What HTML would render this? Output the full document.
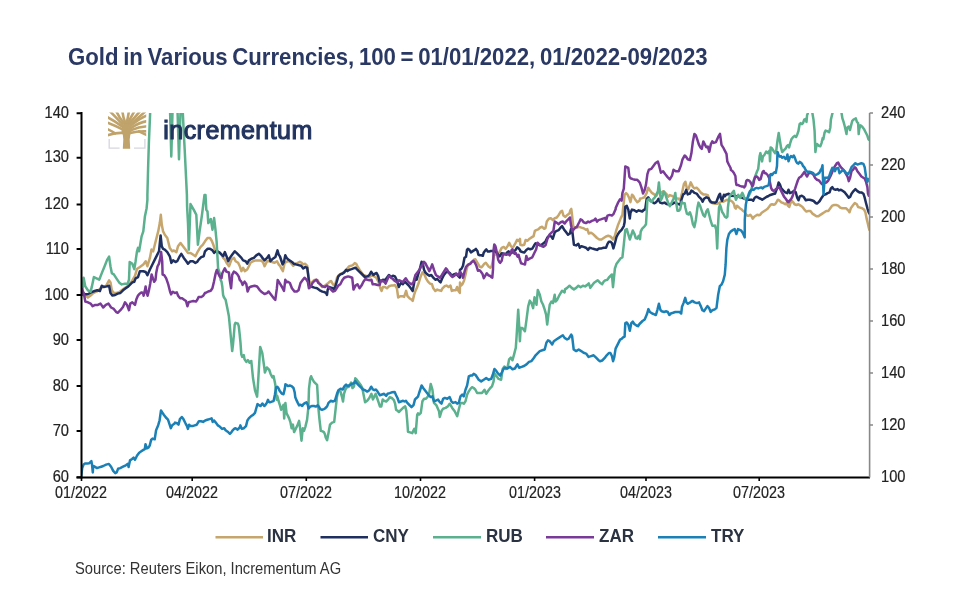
<!DOCTYPE html>
<html><head><meta charset="utf-8">
<style>
html,body{margin:0;padding:0;background:#fff;}
body{width:975px;height:604px;position:relative;overflow:hidden;font-family:"Liberation Sans",Arial,sans-serif;}
#wrap{position:absolute;left:0;top:0;width:975px;height:604px;filter:blur(0.35px);}
.t{position:absolute;white-space:nowrap;line-height:1;}
#title{left:67.9px;top:46.1px;font-weight:bold;font-size:23.4px;color:#2a3864;word-spacing:-1.6px;transform:scaleX(0.948);transform-origin:0 50%;}
.yl{position:absolute;width:40px;text-align:right;font-size:16.3px;color:#222;line-height:1;transform:scaleX(0.9);-webkit-text-stroke:0.2px #222;transform-origin:100% 50%;}
.yr{position:absolute;font-size:16.3px;color:#222;line-height:1;transform:scaleX(0.9);-webkit-text-stroke:0.2px #222;transform-origin:0 50%;}
.xl{position:absolute;width:80px;text-align:center;font-size:16.3px;color:#222;line-height:1;transform:scaleX(0.88);-webkit-text-stroke:0.2px #222;transform-origin:50% 50%;}
.lg{position:absolute;font-weight:bold;font-size:18.7px;color:#2b3342;line-height:1;transform:scaleX(0.91);transform-origin:0 50%;}
#src{left:75.3px;top:560.4px;font-size:16.2px;color:#333;transform:scaleX(0.91);transform-origin:0 50%;}
#logo{left:163.3px;top:117.7px;font-size:25px;font-weight:normal;color:#22345f;-webkit-text-stroke:1.1px #22345f;letter-spacing:0.45px;}
svg{position:absolute;left:0;top:0;}
</style></head><body>
<div id="wrap">
<div class="t" id="title">Gold in Various Currencies, 100 = 01/01/2022, 01/2022-09/2023</div>
<svg width="975" height="604" viewBox="0 0 975 604">
<defs><clipPath id="pc"><rect x="81" y="113" width="789" height="365.5"/></clipPath>
<clipPath id="lc"><rect x="0" y="0" width="38.2" height="37"/></clipPath></defs>
<g transform="translate(108,112.4)">
<g clip-path="url(#lc)" fill="none" stroke="#bfa36b" stroke-width="2.6" stroke-linecap="round">
<path d="M15 20.5 Q 8 20 -1 23"/>
<path d="M7 21 Q 3 18 -1 16.5"/>
<path d="M14.5 17 Q 7 13 -1 10"/>
<path d="M14 14 Q 6 8 -1 4.5"/>
<path d="M14.5 12 Q 8 5 2 -1"/>
<path d="M16 11 Q 11 5 8.4 -1"/>
<path d="M17.5 11 Q 15 5 14.4 -1"/>
<path d="M18.5 11 Q 20 5 20.9 -1"/>
<path d="M19.5 11 Q 23 5 26.3 -1"/>
<path d="M20.5 11.5 Q 27 5 31.8 -1"/>
<path d="M21.5 12.5 Q 31 5 37.4 -1"/>
<path d="M22 14 Q 31 6 39.5 2.7"/>
<path d="M22.5 16 Q 31 10 39.5 8.7"/>
<path d="M22.5 18 Q 31 14 39.5 13.8"/>
<path d="M22 20.5 Q 30 18.5 39.5 19"/>
<path d="M31 19 Q 35 21 39.5 23"/>
</g>
<path d="M14.8 36.4 L22.2 36.4 L21.7 27 Q22 22 23.5 19 L22.6 13 L20 10.8 L17 10.8 L14.3 13 L13.5 19 Q15.3 22 15.3 27 Z" fill="#bfa36b"/>
<path d="M1.2 26.5 V35.8 H11.6 M36.9 26.5 V35.8 H26" fill="none" stroke="#d6d6de" stroke-width="1.3"/>
</g>
<g fill="none" stroke-width="2.5" stroke-linejoin="round" stroke-linecap="round" clip-path="url(#pc)">
<polyline points="81.5,294.9 83.0,293.0 85.3,295.6 87.9,297.6 90.6,295.6 93.2,293.0 96.5,291.7 99.9,289.0 103.2,286.4 105.8,286.4 109.1,280.4 110.5,282.4 111.8,290.3 113.8,293.0 116.4,293.0 119.1,292.3 121.7,290.3 124.4,288.3 127.0,286.4 129.7,283.7 132.3,280.4 135.0,275.8 136.9,269.1 139.9,267.0 143.3,264.5 145.7,261.2 147.4,266.2 149.9,257.9 151.5,249.6 153.2,251.3 154.8,244.7 156.5,238.0 158.2,231.4 159.8,223.1 160.8,214.8 161.8,224.8 163.1,231.4 164.8,234.7 167.3,238.0 169.8,248.0 172.2,251.3 173.9,250.5 176.4,252.1 178.0,246.3 180.5,243.0 183.0,246.3 185.5,249.6 188.0,252.9 190.5,252.9 192.9,254.6 195.4,256.3 197.9,251.3 200.4,247.1 202.9,244.7 205.0,241.3 207.5,238.0 210.0,238.0 211.6,240.5 213.3,244.6 214.9,249.6 217.4,251.3 219.9,252.9 221.6,254.6 223.2,257.9 224.9,259.5 226.5,262.8 229.0,266.2 231.5,259.5 234.0,257.9 235.6,261.2 238.1,262.8 239.8,266.2 241.4,271.1 243.1,267.8 244.8,271.1 247.2,269.5 248.9,266.2 250.5,262.8 253.0,261.2 255.5,260.4 258.0,260.4 260.5,260.4 263.0,262.0 264.6,266.2 267.1,261.2 269.6,261.2 272.1,262.0 274.6,262.8 277.0,261.2 278.7,264.5 280.0,265.8 281.3,268.4 282.9,271.1 284.6,263.1 286.6,261.8 288.6,261.1 290.6,262.5 293.2,265.8 295.2,263.8 297.2,263.1 299.9,261.8 301.2,262.5 303.2,264.4 305.2,263.8 307.2,265.8 308.5,276.4 309.8,283.6 311.8,282.3 313.8,280.3 315.8,279.7 317.7,280.3 319.7,284.3 322.4,287.0 325.0,285.6 327.7,283.6 329.7,281.7 331.0,281.0 333.0,284.3 334.3,285.6 335.6,283.0 337.0,277.7 338.9,275.0 340.9,273.7 342.9,273.0 344.9,271.1 346.9,269.1 348.9,266.4 350.9,265.8 352.8,265.1 354.8,263.1 356.2,263.8 357.5,266.4 359.5,269.7 361.5,272.4 363.4,275.0 365.4,275.7 367.4,276.4 369.4,277.0 371.4,275.7 373.4,275.7 375.0,277.0 376.3,277.7 377.6,280.3 379.0,283.0 380.3,288.3 381.6,290.9 382.9,287.0 384.9,287.0 386.9,288.3 388.9,286.3 390.9,285.6 392.9,285.6 394.9,285.0 396.9,288.3 398.2,297.5 400.2,296.2 402.2,296.2 404.1,296.9 406.1,290.9 407.5,296.2 409.4,298.2 411.4,299.5 412.7,300.9 414.1,294.9 415.4,290.9 416.7,288.3 418.7,283.0 420.7,276.4 422.4,272.4 424.0,273.7 426.0,278.3 428.0,281.7 430.0,283.6 432.0,284.3 433.3,288.3 435.3,290.9 437.3,289.6 439.2,290.3 441.2,290.9 442.5,288.3 444.5,286.3 446.5,285.6 448.5,287.0 450.5,285.6 451.8,290.9 453.8,290.3 455.8,290.3 457.1,287.0 458.4,290.9 459.8,292.9 460.0,282.6 461.0,285.6 462.5,284.1 464.0,280.7 465.5,274.7 466.5,269.7 467.9,264.8 469.4,264.3 470.9,262.8 472.4,261.8 473.9,259.8 475.4,259.3 476.9,261.8 478.4,264.3 479.9,266.8 481.4,267.3 482.8,265.8 484.3,263.8 485.8,262.8 487.3,264.8 488.8,266.8 490.3,267.7 491.8,265.8 493.8,255.8 495.8,253.8 497.7,253.3 499.7,251.9 501.7,247.9 503.7,246.9 505.7,248.9 507.7,245.9 509.2,242.9 510.7,245.9 512.2,247.4 513.6,246.4 515.6,242.9 517.1,239.9 518.6,240.9 520.0,238.9 520.3,244.7 522.3,245.3 524.3,244.7 525.6,240.0 527.6,240.7 529.6,238.7 531.6,237.4 533.6,236.1 534.9,230.8 536.2,230.1 538.2,229.4 540.2,227.5 542.2,226.8 544.2,228.8 545.5,228.1 546.8,221.5 548.8,218.8 550.8,218.2 552.8,220.2 554.8,218.2 556.8,217.5 558.7,214.9 560.7,211.6 562.1,210.9 563.4,215.5 565.4,216.9 567.4,214.9 569.3,213.5 570.0,211.6 570.2,210.4 571.3,208.9 572.2,216.4 573.2,226.1 574.7,227.6 576.9,227.6 579.2,226.8 581.4,227.6 583.6,228.3 585.9,229.8 587.3,229.1 588.8,233.5 591.1,232.8 593.3,234.3 595.5,236.5 597.0,238.0 599.3,239.5 601.5,239.5 603.7,238.0 606.0,236.5 608.2,235.8 610.4,236.5 611.9,238.0 613.0,239.5 614.9,235.8 616.4,229.8 617.9,225.3 619.4,221.6 620.9,217.9 622.4,214.9 623.8,202.1 624.6,194.7 626.1,193.2 627.6,194.7 629.1,197.7 630.5,202.1 632.0,194.7 633.5,196.2 635.0,199.2 637.3,202.1 639.5,200.7 640.0,198.8 642.2,198.1 644.5,197.3 646.7,192.9 648.2,187.7 649.7,189.9 651.9,192.9 654.2,194.4 656.4,195.9 658.6,191.4 660.9,192.9 663.1,191.4 665.3,192.9 666.8,194.4 668.3,196.6 669.8,195.1 672.0,195.9 674.3,197.3 676.5,198.1 678.7,198.8 680.2,200.3 681.7,194.4 683.9,183.9 685.4,181.7 686.9,188.4 688.4,189.2 690.7,182.4 692.9,186.9 694.4,188.4 696.6,187.7 698.8,189.9 701.1,192.9 703.3,194.4 705.5,194.4 707.8,195.1 709.3,199.6 710.8,202.6 713.0,203.3 715.0,203.8 717.0,203.8 719.0,202.8 721.0,201.8 722.9,201.8 724.9,200.8 726.9,199.8 728.9,200.3 730.9,200.8 732.4,201.8 733.9,203.8 734.9,207.7 735.9,208.7 736.9,205.8 738.3,206.8 739.8,208.2 741.3,209.2 742.8,210.7 744.3,211.7 745.8,214.2 747.3,215.7 748.8,215.7 750.3,214.7 751.8,216.7 752.7,218.7 754.2,216.7 755.7,215.7 757.2,214.7 758.7,215.2 760.2,214.7 761.7,212.7 763.2,211.7 764.7,210.7 766.2,209.7 767.6,208.7 769.1,206.8 770.6,204.8 772.1,204.3 773.6,204.8 775.0,204.3 776.0,203.0 777.9,199.7 779.3,200.3 781.3,202.3 783.2,203.0 785.2,204.3 786.6,203.0 787.9,205.6 789.2,207.0 790.5,203.0 791.9,201.0 793.2,202.3 794.5,204.3 796.5,205.0 798.5,204.3 800.5,205.6 802.5,207.0 804.4,209.6 806.4,211.6 808.4,210.9 810.4,210.9 812.4,213.6 814.4,214.9 816.4,216.2 818.4,216.2 820.3,214.9 822.3,213.6 824.3,212.3 826.3,210.9 828.3,210.9 830.3,208.3 832.3,205.6 834.2,205.0 836.2,205.0 838.2,205.6 840.2,207.6 842.2,208.3 844.2,208.3 846.2,208.3 848.2,210.3 849.5,212.3 850.8,208.3 852.8,205.6 854.8,203.0 856.8,204.3 858.1,207.0 860.1,207.6 862.1,208.3 864.1,209.6 865.4,212.3 866.7,218.9 868.0,224.2 868.7,227.5 869.4,230.0" stroke="#c6a66c"/>
<polyline points="81.5,294.9 83.0,293.0 85.3,294.3 87.9,294.3 91.2,292.3 94.6,291.0 97.2,290.3 99.9,291.0 101.8,285.7 103.8,287.0 106.5,286.4 109.1,285.7 110.5,293.0 112.4,295.6 115.1,295.0 117.7,293.6 120.4,293.0 123.0,290.3 125.7,288.3 128.3,286.4 130.3,284.4 132.3,282.4 134.3,281.7 135.6,278.4 138.0,277.1 139.9,271.2 143.3,271.2 145.7,272.0 147.4,275.3 149.9,269.5 152.4,264.5 154.8,259.6 157.3,254.6 159.0,251.3 160.6,235.5 161.8,246.3 163.1,248.8 164.8,249.6 167.3,252.1 169.8,256.3 171.4,262.9 173.1,260.4 175.5,262.0 177.2,261.2 179.7,256.3 181.3,253.8 183.8,257.9 186.3,261.2 188.0,263.7 190.5,261.2 192.9,261.2 195.4,262.9 197.1,262.0 198.7,259.6 201.2,257.1 203.7,256.3 205.0,251.3 207.5,248.8 210.0,248.8 212.5,250.4 214.1,252.9 215.8,251.3 217.4,251.3 219.9,252.9 221.6,254.6 223.2,256.2 224.9,252.1 226.5,256.2 228.2,261.2 229.8,257.9 232.3,254.6 234.8,251.3 236.5,252.9 239.0,255.4 241.4,257.9 243.1,260.4 245.6,261.2 247.2,263.7 248.9,260.4 251.4,258.7 253.9,257.9 256.3,255.4 258.8,253.7 261.3,256.2 263.0,258.7 264.6,260.4 267.1,257.9 268.8,255.4 270.4,261.2 272.9,258.7 275.4,257.0 277.5,250.4 278.7,254.6 280.0,256.5 281.3,260.5 282.6,264.4 284.0,261.8 285.3,255.2 286.6,257.8 288.6,259.8 290.6,261.1 292.6,262.5 293.9,263.8 295.9,264.4 298.5,265.1 301.2,265.8 303.2,268.4 305.2,267.1 307.2,267.7 308.5,277.7 309.1,285.6 310.5,286.3 312.5,287.0 314.4,287.6 317.1,288.3 319.7,290.3 322.4,291.6 325.0,292.3 326.4,293.6 327.0,294.9 327.7,289.6 329.0,287.0 331.0,287.6 333.0,288.3 334.3,289.6 335.6,285.6 337.0,281.0 338.3,276.4 340.3,274.4 342.3,273.7 344.2,272.4 346.2,269.7 347.5,271.1 349.5,269.7 351.5,269.1 353.5,268.4 355.5,267.7 356.8,269.1 358.8,271.1 360.8,273.0 362.8,275.0 364.8,277.0 367.4,276.4 369.4,275.0 371.1,271.7 372.5,273.7 373.4,275.0 375.0,273.7 376.6,273.0 378.3,276.4 379.6,282.3 381.0,281.0 382.9,279.7 384.9,280.3 386.9,277.7 388.9,275.0 390.9,277.0 392.9,275.7 394.9,276.4 396.9,280.3 398.8,287.0 400.8,283.0 402.8,284.3 404.8,281.7 406.8,283.6 408.8,285.6 410.8,288.3 412.7,290.9 414.1,283.0 415.4,276.4 416.7,279.7 418.0,275.0 420.0,268.4 421.6,261.8 422.9,263.8 424.0,269.7 425.3,272.4 427.3,274.4 429.3,275.7 431.3,275.0 433.3,277.7 435.3,279.7 437.3,279.0 439.2,281.0 440.6,282.3 441.9,279.0 443.9,275.0 445.9,272.4 447.8,271.7 449.8,273.0 451.8,275.7 453.8,274.4 455.8,273.7 457.8,275.7 459.8,277.7 460.0,269.7 461.5,268.7 463.0,265.8 464.5,257.8 466.0,256.8 467.0,249.9 467.9,248.9 469.4,249.9 470.9,252.4 472.4,251.4 473.9,250.4 475.9,248.9 477.4,250.9 478.4,254.8 479.9,255.3 481.4,255.3 482.8,255.8 483.8,252.4 485.3,250.4 486.3,249.4 487.8,251.4 489.3,251.4 490.8,251.1 492.3,250.9 493.8,251.1 495.3,251.4 496.8,252.8 498.2,254.8 499.7,256.3 500.7,254.8 501.7,253.3 503.7,253.8 505.7,254.3 507.2,252.4 508.7,251.4 510.2,253.8 511.7,252.8 513.6,251.4 515.6,249.9 517.1,247.4 518.6,248.4 520.0,249.9 520.3,251.3 522.3,252.0 524.3,252.6 526.3,250.0 528.3,248.6 530.3,249.3 532.3,248.6 534.2,245.3 535.6,243.3 537.5,244.0 539.5,245.3 541.5,244.7 543.5,243.3 545.5,241.4 547.5,237.4 549.5,235.4 551.5,236.7 552.8,238.7 554.8,232.1 556.8,230.8 558.7,230.1 560.7,227.5 562.1,226.1 564.0,229.4 566.0,232.1 568.0,234.7 570.0,233.4 571.0,229.1 572.4,232.0 573.2,238.7 573.9,244.7 576.2,245.4 578.4,243.9 579.9,247.7 581.4,246.2 583.6,246.9 585.9,247.7 588.1,249.9 589.6,247.7 591.8,248.4 594.8,249.2 597.0,249.9 599.3,248.4 601.5,248.4 603.7,247.7 606.0,247.7 607.5,243.9 608.9,241.7 610.4,241.7 611.9,243.2 613.4,248.4 614.9,243.2 616.4,237.2 617.9,234.3 619.4,232.0 621.6,229.8 623.8,226.1 624.6,222.3 625.3,206.6 626.8,205.9 628.3,209.6 629.8,218.5 630.5,212.6 632.0,209.6 634.3,210.3 636.5,211.8 638.7,210.3 640.0,210.8 642.2,211.5 643.7,210.0 645.2,209.3 646.7,198.8 648.2,197.3 649.7,199.6 651.9,201.8 654.2,203.3 655.6,202.6 657.1,201.1 658.6,198.8 660.1,202.6 662.3,203.3 664.6,202.6 666.8,204.1 669.8,204.8 672.0,204.1 674.3,202.6 676.5,203.3 678.7,204.1 680.2,204.8 681.7,198.8 683.2,194.4 684.7,193.6 686.2,189.9 687.7,194.4 689.9,193.6 691.4,190.6 692.9,191.4 694.4,192.9 696.6,193.6 698.8,196.6 701.1,198.8 702.6,201.8 704.1,198.8 706.3,197.3 708.5,198.1 710.0,201.1 712.3,202.6 714.5,202.6 715.0,202.8 716.5,201.8 718.0,197.8 719.0,195.3 720.0,193.8 721.0,198.8 722.0,200.8 722.9,197.8 723.9,194.8 724.9,196.3 725.9,194.8 727.4,194.3 728.9,193.8 729.9,194.8 730.9,195.8 734.9,196.0 739.8,196.8 744.8,198.8 748.8,199.8 751.8,199.8 753.2,200.8 754.7,197.8 756.2,196.8 757.7,197.3 759.2,198.3 760.7,198.8 762.2,199.8 763.7,198.8 765.2,197.8 766.7,196.8 768.1,196.3 769.6,195.3 771.1,194.8 772.6,194.3 774.1,193.8 775.0,193.8 776.0,191.1 777.3,187.8 778.6,182.5 779.9,184.4 781.3,188.4 783.2,190.4 785.2,192.4 787.2,193.1 788.5,189.7 789.9,193.1 791.9,192.4 793.8,191.1 795.8,192.4 797.2,197.7 798.5,200.3 799.8,196.4 801.8,195.7 803.8,197.0 805.8,200.3 807.8,199.7 809.7,199.7 811.7,200.3 813.7,201.0 815.7,203.0 817.0,203.6 818.4,202.3 819.7,201.0 821.7,197.7 823.6,195.0 825.6,194.4 827.6,193.1 829.6,192.4 830.9,188.4 832.3,187.1 833.6,189.1 835.6,189.7 837.6,189.1 838.9,190.4 840.9,189.7 842.9,191.1 844.8,192.4 846.8,195.0 848.8,197.7 850.1,197.0 851.5,193.7 853.5,191.1 855.4,189.1 857.4,191.1 859.4,192.4 861.4,192.4 863.4,193.7 864.7,197.7 866.0,203.0 867.4,208.3 868.7,212.3 869.4,213.6" stroke="#1f2f60"/>
<polyline points="81.5,294.9 83.0,285.7 83.6,277.7 85.3,286.4 87.9,290.3 90.6,291.7 91.9,286.4 93.9,277.1 96.5,278.4 99.2,279.7 101.8,273.1 104.5,266.5 107.1,259.9 109.1,256.6 110.5,266.5 111.8,273.1 113.8,274.4 116.4,278.4 119.1,282.4 121.7,284.4 125.0,283.7 127.7,283.7 129.0,279.7 129.7,261.9 132.3,263.8 134.3,269.1 135.6,261.2 136.9,251.9 138.0,247.9 139.1,251.3 141.6,236.4 143.3,231.4 144.9,216.5 146.6,208.2 147.4,199.9 147.4,194.9 148.2,164.6 148.9,142.2 150.1,113.9 150.4,75.2 162.3,45.4 169.5,90.1 171.3,156.4 173.1,90.1 176.9,90.1 179.0,159.3 181.2,90.1 182.1,97.6 183.5,127.3 184.7,149.7 186.9,194.9 187.1,206.6 188.0,223.1 188.8,249.6 190.5,204.1 193.8,209.9 196.3,214.8 197.9,244.7 199.6,231.4 202.0,214.8 204.5,195.0 205.5,194.9 206.3,209.8 207.5,211.5 208.3,223.1 210.8,219.0 212.5,229.7 214.1,218.1 215.3,228.1 216.6,241.3 218.1,268.3 219.8,273.3 220.6,279.9 221.5,281.6 222.3,286.5 223.1,294.8 223.9,297.3 225.6,299.8 227.3,308.0 228.9,316.3 229.7,324.6 230.6,334.5 231.4,342.8 232.2,351.1 233.0,344.5 233.9,334.5 234.7,324.6 235.5,322.9 238.0,323.8 238.8,326.3 239.7,334.5 240.5,342.8 241.3,354.4 242.2,356.9 243.8,355.2 244.6,359.4 246.3,361.9 247.9,360.2 249.6,362.7 251.3,361.0 253.0,378.0 255.0,390.4 257.1,396.6 258.1,382.1 260.2,346.9 262.3,353.1 264.3,367.6 264.9,372.5 266.8,367.5 269.3,370.0 270.5,373.7 272.4,377.4 273.6,376.2 274.9,382.4 275.5,386.1 276.1,393.6 276.7,399.8 277.3,396.1 278.6,401.0 279.8,404.8 281.1,409.7 282.3,407.2 283.5,404.8 284.2,418.4 284.8,407.2 285.4,402.9 286.6,413.4 287.9,415.9 289.1,418.4 290.4,422.1 291.6,428.3 292.9,424.6 294.1,432.1 295.3,429.6 297.2,425.9 299.1,420.9 300.3,429.6 301.5,440.7 302.8,428.3 304.0,430.8 305.3,427.1 307.1,419.6 308.4,407.2 309.0,388.6 310.2,378.7 311.1,376.2 312.1,378.7 314.0,381.8 315.8,383.7 317.1,384.9 317.7,394.8 318.3,407.2 319.5,419.6 320.8,430.8 322.6,431.4 323.9,432.1 325.0,434.5 325.7,437.4 327.1,440.2 328.5,433.1 330.0,424.7 332.1,422.6 334.2,421.9 335.6,409.2 337.0,396.6 338.4,390.9 340.5,391.6 341.9,396.6 343.0,401.5 344.0,393.8 345.4,389.5 346.8,387.4 348.9,386.7 351.1,382.5 352.5,388.1 353.9,386.7 355.3,378.3 356.7,379.7 358.8,382.5 360.9,385.3 362.3,388.1 363.7,395.2 365.1,402.2 367.2,400.8 369.3,398.0 371.4,393.8 372.9,399.4 374.3,396.6 375.7,393.8 377.1,398.0 378.5,402.2 379.9,406.4 381.3,406.4 382.7,399.4 384.1,400.8 386.2,401.5 388.3,399.4 389.7,397.3 391.8,398.0 393.9,400.1 395.1,403.6 396.1,409.9 397.5,410.6 398.9,412.0 401.0,409.9 403.1,407.8 405.2,406.4 406.3,410.6 407.3,421.9 408.0,431.7 410.1,432.4 412.2,433.1 414.3,428.9 415.7,433.1 417.2,414.9 418.0,413.4 419.1,414.5 420.8,412.8 422.4,401.3 424.1,398.8 425.7,398.8 427.4,397.1 429.0,394.6 430.7,383.9 432.4,389.7 434.0,402.9 436.5,405.4 439.0,411.2 439.8,417.0 441.5,411.2 443.1,408.7 445.6,407.9 448.1,406.2 449.7,403.7 452.2,407.9 454.7,411.2 457.2,416.2 458.8,409.5 460.5,402.9 462.2,402.9 463.8,403.7 465.5,401.3 467.1,394.6 468.8,391.3 470.4,388.8 472.1,387.2 473.7,388.0 475.4,389.7 477.1,393.0 479.5,393.0 482.0,393.0 484.5,389.7 486.2,393.8 487.8,391.3 490.3,388.0 492.0,386.4 493.6,381.4 494.4,373.1 496.1,375.6 498.6,378.9 501.1,379.7 502.7,369.0 504.4,366.5 506.0,369.0 507.5,367.7 509.1,359.4 510.8,357.7 512.5,360.2 514.1,354.4 515.8,347.8 516.6,336.2 517.4,323.0 518.2,309.7 519.1,324.6 519.9,341.2 520.7,327.9 522.4,327.9 524.9,331.3 526.5,319.7 528.2,306.4 529.8,300.6 531.5,303.1 533.1,308.1 534.5,297.3 535.6,300.6 536.5,304.8 537.8,289.9 539.8,294.8 541.4,301.5 543.1,304.8 544.7,309.7 546.1,314.7 547.2,324.6 548.4,314.7 549.7,304.8 551.4,301.5 553.0,303.1 554.7,294.8 555.5,301.5 557.2,299.8 559.6,294.8 562.1,290.7 564.6,292.4 565.0,289.4 567.2,287.9 569.5,285.7 571.7,287.9 573.9,289.4 576.2,287.9 578.4,285.7 580.6,287.2 582.9,285.7 585.1,286.4 587.3,284.9 588.8,283.4 590.3,287.9 591.8,285.7 594.1,282.7 596.3,281.2 597.8,280.4 600.0,282.7 602.2,284.2 604.0,281.2 605.2,280.4 607.5,279.7 608.9,277.5 610.4,276.0 611.9,274.5 613.0,287.2 614.9,268.5 616.4,264.1 618.6,261.1 620.9,258.1 622.4,257.4 623.8,244.7 625.3,229.8 626.8,229.1 628.3,234.3 629.8,239.5 631.3,235.0 632.8,230.5 634.3,233.5 635.8,238.0 637.3,238.7 638.7,235.8 640.0,239.1 640.7,231.6 642.2,228.6 644.5,226.4 646.0,224.2 646.7,212.2 647.4,200.3 648.9,198.8 650.4,201.1 651.9,201.8 653.4,198.8 654.9,197.3 656.4,194.4 657.9,191.4 658.9,182.4 659.8,191.4 660.9,200.3 662.3,197.3 663.8,191.4 665.3,194.4 666.8,198.8 668.3,203.3 669.8,206.3 671.3,203.3 672.8,200.3 674.3,197.3 675.3,192.9 676.5,204.8 677.5,210.8 679.0,210.8 680.2,209.3 681.7,201.8 683.2,203.3 684.7,203.3 685.4,207.8 686.9,213.7 688.4,214.5 689.9,212.2 691.4,216.7 692.9,224.2 694.4,227.1 695.9,219.7 697.4,207.8 698.5,202.6 700.3,206.3 701.8,210.8 703.3,215.2 704.8,216.7 706.3,211.5 707.8,209.3 709.3,215.2 710.8,221.2 712.3,225.7 714.5,225.7 715.0,225.6 716.2,229.6 717.2,248.5 718.0,225.6 719.0,207.7 720.0,204.8 721.0,207.7 722.0,211.7 723.4,213.7 724.9,216.7 726.4,217.7 727.4,216.7 727.9,207.7 728.9,199.8 729.9,195.8 731.4,193.8 732.9,191.9 733.9,190.9 734.9,195.8 735.9,199.8 736.9,197.8 738.3,194.8 739.3,196.8 740.3,197.8 741.3,194.8 742.3,192.8 743.3,194.8 744.3,197.8 745.8,199.8 747.3,198.8 748.8,195.8 750.3,192.8 751.3,189.9 752.3,185.9 753.2,181.9 754.2,178.9 755.7,175.0 757.2,171.0 758.2,169.0 759.6,156.4 760.4,153.1 762.1,161.4 762.9,156.4 764.5,154.8 766.2,151.5 767.8,153.1 769.5,150.6 770.0,161.3 770.6,147.4 771.7,148.0 773.5,150.9 775.2,153.2 776.4,149.7 777.5,140.5 778.7,132.9 779.9,140.5 781.0,147.4 782.2,152.0 783.3,150.9 784.5,149.7 785.6,148.6 786.8,146.2 788.0,145.1 789.1,147.4 790.3,142.8 791.4,139.3 793.2,137.0 794.9,135.8 796.1,137.0 797.2,134.7 798.4,131.2 799.6,124.2 800.7,123.1 801.9,124.2 803.0,123.1 804.2,119.6 805.4,119.0 806.5,121.9 807.1,115.0 807.7,113.8 808.8,103.4 811.7,103.4 812.3,112.6 813.5,119.6 814.6,131.2 815.4,152.0 816.1,147.4 816.9,143.9 818.7,145.7 820.4,146.2 821.6,142.8 822.7,138.1 823.3,139.3 824.5,132.9 825.6,130.6 827.4,131.2 829.1,132.3 830.3,127.7 830.9,119.6 832.0,115.0 833.2,110.3 834.3,105.7 839.5,105.7 841.3,111.5 842.4,118.4 843.6,121.9 844.8,126.5 845.9,131.2 846.5,134.1 847.1,127.7 848.8,126.5 850.0,130.0 851.1,125.4 852.3,120.8 853.5,119.6 854.6,119.0 855.8,118.4 856.9,121.9 858.1,123.1 858.7,134.1 859.2,129.4 860.4,125.4 862.1,126.5 863.9,128.9 865.6,132.3 867.4,135.8 868.5,139.3 869.1,139.9" stroke="#5bb08e"/>
<polyline points="81.5,294.9 82.0,289.0 84.0,294.3 85.3,301.6 87.9,302.3 90.6,303.6 92.6,306.2 95.2,304.9 97.9,304.9 100.5,303.6 103.2,307.5 105.8,304.9 108.5,303.6 111.1,307.5 113.8,308.9 116.4,312.2 117.7,312.8 120.4,310.2 123.0,306.9 125.0,302.3 127.0,304.9 129.0,310.2 130.3,303.6 132.3,302.3 135.0,304.9 136.3,299.6 138.0,295.6 139.6,293.7 141.6,292.4 143.0,293.0 143.6,295.7 144.9,290.4 145.6,286.4 146.3,291.7 147.6,295.7 148.9,290.4 150.2,283.8 151.6,274.5 152.9,278.4 154.2,281.8 155.5,279.8 156.2,273.1 157.5,266.5 158.9,263.9 160.2,258.6 161.1,251.9 162.2,261.2 162.6,274.5 164.2,275.1 166.2,278.4 168.1,283.8 170.1,291.7 171.1,294.4 172.8,291.7 174.8,293.0 176.8,292.4 178.1,295.7 180.1,298.3 182.1,298.3 184.1,299.7 186.0,301.0 187.4,306.3 188.7,302.3 190.7,301.6 193.3,301.0 196.0,301.6 197.3,299.7 198.6,297.0 201.3,297.0 203.3,295.7 205.0,293.0 206.6,292.3 208.2,291.5 210.7,290.7 212.4,288.2 214.0,281.6 215.7,273.3 216.8,270.0 218.1,273.3 219.8,276.6 221.5,278.2 222.3,273.3 223.9,270.0 224.8,268.3 226.4,271.6 228.9,272.5 229.7,279.9 231.1,288.2 232.2,274.9 233.9,271.6 235.5,272.5 237.2,274.1 238.8,276.6 239.7,279.9 241.3,281.6 242.6,284.9 244.6,281.6 246.3,284.0 247.6,291.5 249.3,287.4 251.3,286.5 254.6,285.7 257.1,286.5 259.5,289.8 262.0,292.3 264.5,294.0 267.0,293.1 268.6,291.5 271.1,294.8 273.6,298.1 275.3,299.8 276.9,288.2 277.7,279.9 280.0,283.6 282.0,287.0 284.0,290.9 285.3,279.7 286.6,282.3 287.9,281.7 289.9,283.0 291.9,288.3 294.6,291.6 296.6,291.6 298.5,290.3 300.5,283.0 302.5,280.3 304.5,277.7 306.5,279.7 307.8,281.7 308.9,288.3 310.5,287.0 312.5,283.0 314.4,281.0 316.4,279.7 318.4,283.0 320.4,284.3 322.4,286.3 325.0,287.0 327.0,285.6 329.0,287.6 331.0,289.6 333.0,291.6 335.0,290.9 336.3,288.9 338.3,285.6 340.3,284.3 342.3,280.3 344.2,277.7 346.2,277.0 348.2,276.4 350.2,277.0 352.2,277.7 353.5,289.6 355.5,285.6 357.5,284.3 359.5,288.3 361.5,285.6 363.4,281.7 365.4,279.0 367.4,279.7 369.4,280.3 371.4,279.7 372.7,284.3 374.7,284.3 375.0,284.3 377.6,285.0 379.6,285.0 381.0,280.3 382.3,281.0 384.3,281.7 385.6,283.6 387.6,279.0 388.9,275.7 390.9,277.7 392.9,279.0 394.9,281.0 396.9,282.3 398.8,280.3 400.8,281.0 402.8,282.3 404.1,280.3 405.7,278.3 407.5,281.0 409.4,283.0 411.4,284.3 413.4,282.3 415.4,275.0 417.4,272.4 419.4,269.7 420.7,267.1 422.7,264.4 424.0,261.8 425.3,263.1 426.7,265.8 428.0,268.4 429.3,271.1 430.6,268.4 432.2,264.4 433.9,269.7 435.9,275.0 437.9,276.4 439.9,277.7 441.9,275.0 443.9,271.7 445.9,268.4 447.2,269.7 448.5,272.4 450.5,275.0 452.5,277.0 454.5,275.7 456.5,273.7 458.4,275.7 460.0,271.7 461.5,273.7 463.0,277.7 464.5,271.7 466.0,266.8 467.5,265.3 468.9,264.3 470.4,263.8 471.9,261.8 473.4,260.8 474.9,262.8 476.4,265.8 477.9,270.7 479.4,270.2 480.9,271.7 482.4,273.7 483.8,278.2 485.3,275.7 486.8,273.2 488.3,275.2 489.8,275.7 491.3,277.2 492.3,277.7 493.0,269.7 493.6,249.9 494.3,244.4 495.3,245.9 496.3,249.9 497.3,254.8 498.2,259.8 499.2,261.8 500.2,262.8 501.7,260.8 502.7,255.8 503.7,253.8 505.2,254.3 506.7,254.8 508.2,253.8 509.7,255.3 510.7,252.8 511.7,249.9 512.6,249.4 513.6,252.4 514.6,253.8 515.6,252.8 516.6,254.8 517.6,256.8 518.6,254.8 519.6,258.8 520.0,259.8 521.0,263.2 523.0,263.9 525.0,264.5 526.3,255.9 527.6,259.9 529.6,258.6 532.3,257.3 534.2,253.3 536.2,249.3 537.5,242.7 539.5,244.7 541.5,246.0 543.5,246.7 545.5,245.3 547.5,238.7 549.5,234.7 551.5,232.7 553.4,230.8 554.8,221.5 556.8,222.8 558.7,224.1 560.7,222.2 562.7,221.5 564.7,223.5 566.7,220.8 568.7,218.8 570.0,217.5 571.0,225.3 572.4,231.3 573.9,229.1 575.4,227.6 576.9,226.8 579.2,222.3 580.6,219.4 582.1,220.1 583.6,222.3 585.9,223.1 588.1,221.6 589.6,222.3 591.8,220.9 594.1,220.1 595.5,218.6 597.0,221.6 598.5,220.1 600.8,219.4 603.0,218.6 605.2,217.9 606.0,220.9 607.5,215.6 609.7,214.9 611.9,215.6 613.4,214.2 615.7,208.9 615.7,208.1 617.9,202.9 620.1,199.2 621.6,200.7 622.4,193.2 623.8,188.7 624.6,176.8 625.3,166.4 626.8,167.1 628.3,167.9 629.4,176.8 630.5,178.3 632.8,179.1 635.0,179.8 637.3,179.8 638.7,181.3 640.0,183.1 641.5,187.6 643.0,193.5 644.5,190.5 646.0,184.6 647.4,174.2 648.9,169.7 651.2,168.9 653.4,166.0 655.6,163.0 657.9,161.5 659.4,166.7 660.9,172.7 663.1,171.2 665.3,174.2 667.6,177.1 669.8,179.4 672.0,175.7 673.5,169.7 675.8,171.2 678.7,171.2 681.0,165.2 682.5,159.3 684.7,155.5 686.2,157.0 687.7,159.3 689.9,160.0 691.4,153.3 692.9,141.4 694.4,133.9 695.9,135.4 697.4,139.9 698.8,144.4 700.3,147.3 701.8,148.8 703.3,141.4 704.8,144.4 706.3,147.3 707.8,146.6 709.3,151.8 710.8,144.4 712.3,141.4 713.7,142.9 716.0,142.1 718.2,136.9 720.0,133.9 721.5,144.8 723.1,147.3 724.8,150.6 726.5,153.9 727.3,161.4 728.9,164.7 730.6,168.0 730.9,170.0 732.4,171.0 733.9,173.0 735.4,176.0 735.9,181.9 736.4,184.9 737.8,184.9 739.8,185.9 741.3,186.4 742.8,186.4 744.3,187.4 745.3,185.9 746.3,180.9 747.3,179.9 748.8,180.4 750.3,181.9 751.3,183.9 752.3,186.4 753.2,184.9 754.2,179.9 755.2,177.0 756.7,176.5 758.2,177.9 759.2,179.9 760.7,178.9 761.7,175.0 762.7,172.0 763.7,171.0 764.7,173.0 766.2,173.5 767.6,175.0 769.1,177.9 770.1,182.9 771.1,187.9 772.1,189.9 773.6,190.9 775.0,189.9 776.0,189.1 777.9,187.1 779.9,188.4 781.9,192.4 783.9,196.4 785.9,199.0 787.2,201.0 788.5,202.3 789.9,200.3 791.2,199.0 792.5,196.4 793.8,192.4 795.2,188.4 796.5,184.4 797.8,180.5 799.1,177.8 801.1,176.5 803.1,173.8 804.4,171.9 805.8,174.5 807.1,176.5 808.4,173.8 809.7,172.5 811.7,173.2 813.7,175.2 815.0,177.8 817.0,179.8 819.0,180.5 821.0,183.1 822.3,184.4 824.3,183.1 826.3,182.5 828.3,180.5 830.3,176.5 832.3,171.9 833.6,168.5 835.6,165.2 836.9,163.2 838.2,162.6 839.5,165.2 841.5,167.9 843.5,169.9 845.5,173.2 847.5,176.5 848.8,181.1 850.1,177.8 851.5,171.2 852.8,169.9 854.8,167.2 856.1,168.5 857.4,171.2 859.4,173.8 861.4,176.5 863.4,177.8 864.7,178.5 866.0,181.8 867.4,187.1 868.0,193.7 868.7,195.7" stroke="#7a3a98"/>
<polyline points="81.1,477.3 82.2,468.1 83.6,464.6 85.0,463.6 87.1,463.6 89.3,463.2 91.4,461.1 92.1,465.3 92.8,472.4 93.2,466.0 94.9,466.7 97.0,468.1 99.1,467.4 101.2,466.7 103.3,466.0 106.1,464.6 108.9,463.9 111.1,466.7 113.2,470.9 115.3,473.1 116.7,472.4 118.1,468.8 120.2,468.1 123.0,466.7 125.8,465.3 127.9,463.9 128.6,467.0 130.0,460.4 132.1,459.0 133.6,457.6 135.0,459.7 137.1,455.5 139.2,452.7 141.3,451.3 143.4,449.9 144.8,449.1 145.5,444.2 146.9,448.4 148.3,447.7 149.7,445.6 151.1,440.0 152.5,438.6 154.7,439.3 156.1,430.2 158.2,425.2 159.6,420.3 161.0,410.5 162.4,412.6 163.8,414.7 165.9,417.5 168.0,419.6 169.4,423.8 170.8,428.1 172.2,425.2 174.3,423.8 175.0,422.6 177.1,423.3 178.5,424.7 179.9,419.1 181.8,417.0 183.4,419.1 185.5,423.3 187.0,426.1 187.9,428.9 189.1,424.7 190.5,426.1 192.6,426.1 194.7,425.4 196.8,424.7 198.9,421.2 201.0,421.2 203.1,421.9 205.2,420.5 207.3,419.8 209.5,419.1 211.6,418.4 212.7,421.9 214.1,420.5 215.8,422.6 217.9,425.4 220.0,426.8 222.1,428.9 224.2,428.2 225.6,430.3 227.7,431.7 229.9,433.8 231.3,432.4 232.7,430.3 234.1,428.9 235.5,428.2 237.6,429.6 239.7,427.5 240.4,425.4 241.8,428.9 243.9,428.2 246.0,426.1 247.4,420.5 248.8,418.4 250.9,416.3 253.1,414.9 255.0,412.8 256.2,408.5 257.5,404.1 259.3,405.4 260.6,406.0 262.4,403.5 264.3,406.0 265.5,404.8 266.8,402.9 268.0,399.8 268.7,401.6 269.9,402.3 271.8,401.6 273.6,401.0 274.9,394.8 276.1,387.4 277.3,386.8 278.6,388.6 279.8,391.1 281.7,393.6 283.5,394.2 284.8,388.6 285.4,384.3 286.6,384.9 287.9,386.1 289.8,385.5 291.6,386.1 293.5,388.0 294.7,392.3 295.3,397.3 296.6,400.4 297.8,402.9 299.1,405.4 300.9,404.8 302.2,406.0 303.4,404.1 305.3,402.9 306.5,402.3 307.7,404.8 308.6,408.5 310.2,406.6 312.1,406.0 314.0,406.0 315.8,406.6 317.7,405.4 318.9,406.6 320.2,409.1 322.0,409.7 323.9,409.1 325.0,408.5 325.0,408.5 327.1,406.4 328.5,402.9 330.7,400.8 332.8,401.5 334.9,400.8 337.0,393.8 338.4,390.2 340.5,388.8 342.6,389.5 344.7,386.0 346.1,384.6 347.5,386.0 349.6,385.3 351.8,383.9 353.9,383.2 355.3,381.1 356.7,383.2 358.8,385.3 360.9,387.4 363.0,389.5 365.1,390.2 367.2,391.6 369.3,390.2 371.2,386.7 372.9,389.5 374.3,390.2 375.7,389.5 377.1,390.9 378.5,393.1 379.9,395.2 382.0,394.5 384.1,393.8 386.2,395.9 387.6,393.8 389.7,393.1 391.8,392.3 394.7,392.1 396.1,395.2 397.5,398.0 398.9,402.2 401.0,401.5 403.1,400.8 404.5,401.5 405.9,400.8 407.3,402.9 409.4,405.0 411.5,407.1 413.6,405.0 415.0,399.4 416.5,398.0 418.0,396.6 419.1,393.0 421.6,385.5 423.2,388.0 425.7,391.3 428.2,394.6 430.7,397.1 432.4,396.3 434.0,401.3 436.5,400.4 438.1,399.6 439.8,402.1 441.5,403.7 443.1,398.8 444.8,397.9 447.3,398.8 449.7,397.1 451.4,401.3 453.0,402.9 455.5,402.1 457.2,403.7 458.8,402.9 460.5,396.3 462.2,394.6 463.8,396.3 465.5,389.7 467.1,385.5 468.8,376.4 470.4,375.6 472.1,375.6 473.7,373.9 475.4,374.8 477.1,377.3 478.7,379.7 481.2,381.4 483.7,379.7 486.2,378.1 488.6,379.7 491.1,378.9 492.8,374.8 494.4,369.0 496.1,370.6 497.7,373.1 500.2,375.6 501.9,372.3 503.5,369.0 505.0,367.7 507.5,368.5 510.0,366.9 512.5,369.3 514.9,368.5 517.4,364.4 519.1,367.7 521.6,366.9 524.0,366.0 526.5,364.4 529.0,361.9 531.5,361.1 534.0,357.7 535.6,355.3 537.3,353.6 539.8,351.1 542.3,350.3 544.7,349.5 546.4,342.8 548.0,340.4 549.7,341.2 552.2,344.5 553.8,341.2 556.3,339.5 558.8,337.9 561.3,336.2 562.9,335.4 564.6,337.9 567.1,339.5 568.7,338.7 571.2,334.6 572.1,336.2 573.7,349.5 576.2,351.1 578.7,349.5 581.2,351.1 583.6,352.8 586.1,353.6 588.6,356.9 591.1,356.1 593.6,355.3 596.1,357.7 598.5,360.2 600.0,361.2 602.2,360.5 604.5,358.2 606.7,355.3 608.9,353.0 610.4,353.0 611.9,356.0 613.1,361.2 614.2,357.5 615.6,348.6 617.1,345.6 618.6,342.6 620.1,339.6 621.6,338.9 623.1,337.4 624.6,336.6 625.3,323.2 626.8,322.5 628.3,324.7 629.8,330.7 631.3,323.2 632.8,321.7 634.3,324.0 636.5,325.5 638.0,326.2 639.5,324.0 641.0,322.5 642.5,321.0 644.7,319.5 646.9,314.3 648.4,309.1 649.9,312.0 652.2,313.5 654.4,314.3 655.9,315.0 657.4,309.8 658.9,303.8 660.4,309.8 661.8,311.3 664.1,312.0 666.3,311.3 667.8,312.0 669.3,315.0 670.8,313.5 673.0,312.8 675.3,312.0 677.5,312.0 679.7,312.0 681.2,313.5 682.0,306.8 683.5,303.1 685.2,297.9 686.4,302.4 687.9,303.8 690.2,302.4 692.4,300.9 694.6,302.4 696.9,303.1 699.1,302.4 700.0,304.6 700.8,306.1 702.4,310.2 704.1,311.1 705.7,308.6 707.4,306.1 709.0,307.8 710.7,311.9 712.4,310.2 714.8,309.4 716.5,307.8 718.2,294.5 719.8,286.2 721.5,284.6 723.1,281.3 724.8,274.6 725.6,264.7 726.4,248.1 727.3,239.8 728.9,234.0 730.6,231.6 733.1,229.9 734.7,229.1 736.4,234.0 738.0,229.1 739.7,229.9 741.3,230.7 743.0,233.2 744.7,237.4 744.8,219.7 745.3,211.7 745.8,204.8 746.8,199.8 747.8,196.8 748.8,193.8 749.8,191.4 750.8,190.4 752.3,189.4 753.7,189.9 755.2,188.4 756.7,187.9 758.2,188.4 759.7,187.9 761.2,187.4 762.7,188.4 764.2,186.9 765.7,186.4 767.2,185.9 768.6,184.9 769.6,179.9 770.1,175.0 771.1,174.0 772.1,175.0 773.6,173.0 775.0,172.0 775.8,172.9 777.0,166.0 777.5,152.0 778.7,155.5 779.9,156.7 781.0,156.1 782.2,157.8 783.9,156.7 785.6,159.0 786.8,157.3 787.4,154.4 788.5,161.3 789.7,157.8 790.9,156.1 792.6,157.3 793.8,155.5 794.9,157.8 796.1,161.3 797.2,163.1 798.4,163.6 799.6,161.9 800.7,162.5 801.9,163.6 803.0,166.0 804.2,167.1 805.4,169.4 806.5,171.2 807.7,171.8 809.4,171.8 811.1,172.3 812.9,172.9 814.0,174.1 815.2,175.2 816.4,174.6 817.5,174.1 819.3,172.9 821.0,169.4 821.4,169.9 822.5,165.2 823.5,194.4 824.7,177.8 827.0,177.8 828.9,177.2 830.9,171.2 832.3,167.9 833.6,168.5 834.9,171.2 836.2,168.5 838.2,167.9 839.5,173.2 840.9,171.9 842.9,169.9 844.8,171.2 846.2,173.2 848.2,173.8 849.5,171.9 851.5,167.2 853.5,165.2 855.4,163.2 857.4,164.6 859.4,163.9 861.4,163.2 863.4,163.9 864.7,167.2 866.0,176.5 867.4,181.8 868.7,179.1 869.4,180.5" stroke="#1b80b6"/>
</g>
<g stroke="#000" stroke-width="2" fill="none">
<path d="M81.5 112 V478.5"/>
<path d="M76.6 113.25 H81.5 M76.6 157.75 H81.5 M76.6 204.4 H81.5 M76.6 249.1 H81.5 M76.6 294.9 H81.5 M76.6 340.1 H81.5 M76.6 385.9 H81.5 M76.6 431.1 H81.5 M76.6 477.25 H81.5"/>
<path d="M76.5 477.5 H870"/>
<path d="M81.5 477 V481 M192.2 477 V481 M306.3 477 V481 M420.5 477 V481 M534.6 477 V481 M646 477 V481 M759.2 477 V481" stroke-width="1.6"/>
</g>
<g stroke="#888" stroke-width="1.6" fill="none">
<path d="M869.6 113 V477.5"/>
<path d="M869.6 113 H873 M869.6 165 H873 M869.6 217 H873 M869.6 269 H873 M869.6 321 H873 M869.6 373 H873 M869.6 425 H873"/>
</g>
<g stroke-width="2.4">
<path d="M215.5 537.3 H263" stroke="#c6a66c"/>
<path d="M320.5 537.3 H368" stroke="#1f2f60"/>
<path d="M433 537.3 H481" stroke="#5bb08e"/>
<path d="M546 537.3 H594" stroke="#7a3a98"/>
<path d="M658 537.3 H706" stroke="#1b80b6"/>
</g>
</svg>
<div class="t" id="logo">incrementum</div>
<div class="yl" style="left:28.6px;top:104.0px">140</div>
<div class="yl" style="left:28.6px;top:148.4px">130</div>
<div class="yl" style="left:28.6px;top:195.1px">120</div>
<div class="yl" style="left:28.6px;top:239.8px">110</div>
<div class="yl" style="left:28.6px;top:285.6px">100</div>
<div class="yl" style="left:28.6px;top:330.8px">90</div>
<div class="yl" style="left:28.6px;top:376.6px">80</div>
<div class="yl" style="left:28.6px;top:421.8px">70</div>
<div class="yl" style="left:28.6px;top:467.9px">60</div>
<div class="yr" style="left:881.3px;top:103.9px">240</div>
<div class="yr" style="left:881.3px;top:155.9px">220</div>
<div class="yr" style="left:881.3px;top:207.9px">200</div>
<div class="yr" style="left:881.3px;top:259.9px">180</div>
<div class="yr" style="left:881.3px;top:311.9px">160</div>
<div class="yr" style="left:881.3px;top:363.9px">140</div>
<div class="yr" style="left:881.3px;top:415.9px">120</div>
<div class="yr" style="left:881.3px;top:467.9px">100</div>
<div class="xl" style="left:40.9px;top:484.2px">01/2022</div>
<div class="xl" style="left:152.1px;top:484.2px">04/2022</div>
<div class="xl" style="left:266.2px;top:484.2px">07/2022</div>
<div class="xl" style="left:380.4px;top:484.2px">10/2022</div>
<div class="xl" style="left:494.5px;top:484.2px">01/2023</div>
<div class="xl" style="left:605.9px;top:484.2px">04/2023</div>
<div class="xl" style="left:719.1px;top:484.2px">07/2023</div>
<div class="lg" style="left:267.3px;top:527.1px">INR</div>
<div class="lg" style="left:373.1px;top:527.1px">CNY</div>
<div class="lg" style="left:485.6px;top:527.1px">RUB</div>
<div class="lg" style="left:598.6px;top:527.1px">ZAR</div>
<div class="lg" style="left:711.1px;top:527.1px">TRY</div>
<div class="t" id="src">Source: Reuters Eikon, Incrementum AG</div>
</div>
</body></html>
